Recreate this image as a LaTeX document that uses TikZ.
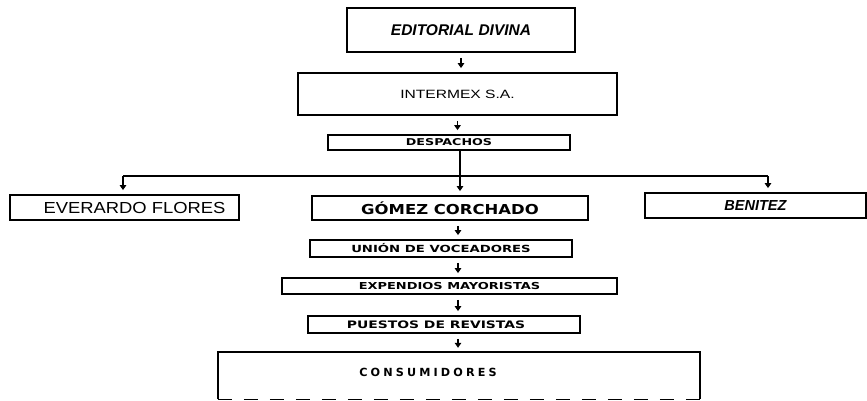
\documentclass[tikz,border=0pt]{standalone}
\usepackage{fontspec}
\usetikzlibrary{arrows.meta}
\newfontfamily\fedit{Liberation Sans}
\newfontfamily\fheavy[FakeStretch=1.35]{DejaVu Sans}
\newfontfamily\fgomez[FakeStretch=1.2]{DejaVu Sans}
\newfontfamily\fthin[FakeStretch=1.3]{Liberation Sans}
\newfontfamily\fever[FakeStretch=1.15]{Liberation Sans}
\newfontfamily\fspaced[LetterSpace=28]{DejaVu Sans}
\begin{document}
\begin{tikzpicture}[x=1pt,y=-1pt,
  box/.style={draw, line width=1.8pt, inner sep=0pt, rectangle},
  conn/.style={line width=1.2pt},
  arr/.style={conn, -{Triangle[width=6.5pt,length=5pt]}, shorten <=5pt, shorten >=4pt}]
\useasboundingbox (0,0) rectangle (867,401);
% boxes
\node[box, minimum width=228pt, minimum height=44pt] (ed) at (461,30)
  {\fedit\bfseries\itshape\fontsize{15.5}{15.5}\selectfont EDITORIAL DIVINA};
\node[box, minimum width=319pt, minimum height=42pt] (inter) at (457.5,94)
  {\fthin\fontsize{12}{12}\selectfont INTERMEX S.A.};
\node[box, minimum width=242pt, minimum height=15pt] (desp) at (449,142.5)
  {\fheavy\bfseries\fontsize{9.4}{9.4}\selectfont DESPACHOS};
\node[box, minimum width=229pt, minimum height=25pt] (ever) at (124.5,207.5)
  {\hspace*{20pt}\fever\fontsize{16}{16}\selectfont EVERARDO FLORES};
\node[box, minimum width=276pt, minimum height=24pt] (gomez) at (450,208)
  {\fgomez\bfseries\fontsize{13.7}{13.7}\selectfont GÓMEZ CORCHADO};
\node[box, minimum width=221pt, minimum height=25pt] (ben) at (755.5,205.5)
  {\fedit\bfseries\itshape\fontsize{14.5}{14.5}\selectfont BENITEZ};
\node[box, minimum width=262pt, minimum height=17pt] (union) at (441,248.5)
  {\fheavy\bfseries\fontsize{9.8}{9.8}\selectfont UNIÓN DE VOCEADORES};
\node[box, minimum width=335pt, minimum height=16pt] (expend) at (449.5,286)
  {\fheavy\bfseries\fontsize{9.6}{9.6}\selectfont EXPENDIOS MAYORISTAS};
\node[box, minimum width=272pt, minimum height=17pt] (puestos) at (444,324.5)
  {\hspace*{-16pt}\fheavy\bfseries\fontsize{10.3}{10.3}\selectfont PUESTOS DE REVISTAS};
% consumidores (cut at bottom)
\node[inner sep=0pt, minimum width=482pt, minimum height=47pt] (cons) at (459,375.5) {};
\draw[line width=1.8pt] (cons.south west) -- (cons.north west) -- (cons.north east) -- (cons.south east);
\draw[line width=1.4pt, dash pattern=on 14pt off 12pt] (cons.south west) -- (cons.south east);
\node[inner sep=0pt] (constext) at (428,372)
  {\fspaced\bfseries\fontsize{11.2}{11.2}\selectfont CONSUMIDORES};
% connectors
\coordinate (ax) at (458,0);
\coordinate (hub) at (460,176);
\coordinate (hl) at (123,176);
\coordinate (hr) at (768,176);
\draw[arr] (ed.south) -- (ed.south |- inter.north);
\draw[arr] (inter.south) -- (inter.south |- desp.north);
\draw[arr, shorten <=0pt] (desp.south -| hub) -- (gomez.north -| hub);
\draw[conn, line width=1.4pt] (hl) -- (hr);
\draw[arr, shorten <=0pt] (hl) -- (hl |- ever.north);
\draw[arr, shorten <=0pt] (hr) -- (hr |- ben.north);
\draw[arr] (gomez.south -| ax) -- (union.north -| ax);
\draw[arr] (union.south -| ax) -- (expend.north -| ax);
\draw[arr] (expend.south -| ax) -- (puestos.north -| ax);
\draw[arr] (puestos.south -| ax) -- (cons.north -| ax);
\end{tikzpicture}
\end{document}
